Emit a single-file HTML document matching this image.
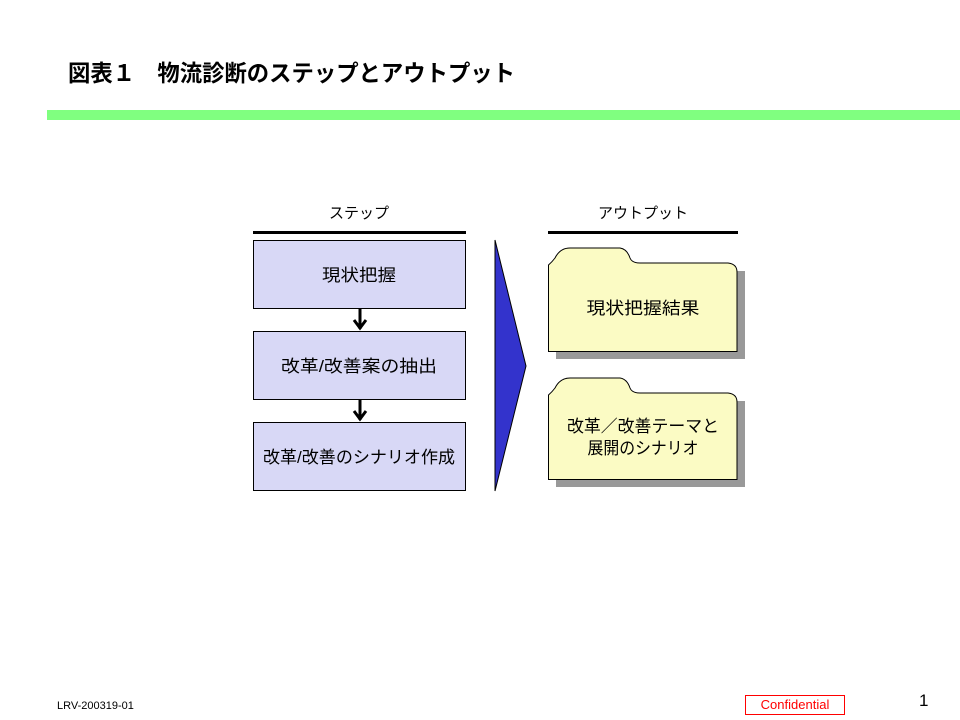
<!DOCTYPE html>
<html><head><meta charset="utf-8"><style>
body{margin:0;width:960px;height:720px;background:#fff;overflow:hidden;position:relative;font-family:"Liberation Sans","Noto Sans CJK JP",sans-serif}
</style></head><body>
<svg width="960" height="720" style="position:absolute;left:0;top:0" font-family="Liberation Sans, Noto Sans CJK JP, sans-serif">
<text x="68" y="81" font-size="23" font-weight="bold" fill="#000" textLength="447" lengthAdjust="spacingAndGlyphs">図表１　物流診断のステップとアウトプット</text>
<rect x="47" y="110" width="913" height="10" fill="#80ff80"/>
<text x="359" y="218" font-size="15" text-anchor="middle">ステップ</text>
<text x="643" y="218" font-size="15" text-anchor="middle">アウトプット</text>
<rect x="253" y="231" width="213" height="3" fill="#000"/>
<rect x="548" y="231" width="190" height="3" fill="#000"/>
<g fill="#d8d8f6" stroke="#000" stroke-width="1">
<rect x="253.5" y="240.5" width="212" height="68"/>
<rect x="253.5" y="331.5" width="212" height="68"/>
<rect x="253.5" y="422.5" width="212" height="68"/>
</g>
<g font-size="17" text-anchor="middle" fill="#000">
<text x="359" y="281" textLength="74" lengthAdjust="spacingAndGlyphs">現状把握</text>
<text x="359" y="372" textLength="156" lengthAdjust="spacingAndGlyphs">改革/改善案の抽出</text>
<text x="359" y="463" textLength="192" lengthAdjust="spacingAndGlyphs">改革/改善のシナリオ作成</text>
</g>
<g stroke="#000" stroke-width="3" fill="none">
<line x1="360" y1="309" x2="360" y2="329"/><polyline points="354,320 360,328 366,320"/>
<line x1="360" y1="400" x2="360" y2="420"/><polyline points="354,411 360,419 366,411"/>
</g>
<polygon points="495,240 526,366 495,491" fill="#3333cc" stroke="#000" stroke-width="1"/>
<g>
<path d="M556,271 L745,271 L745,359 L556,359 Z" fill="#999"/>
<path d="M548.5,351.5 L548.5,265 Q552,262 555,258 Q560,248 570,248 L620,248 Q627,249 630,258 Q632,263 640,263 L728,263 Q737,264 737,272 L737,351.5 Z" fill="#fbfbc4" stroke="#000"/>
<text x="643" y="314" font-size="17" text-anchor="middle" textLength="113" lengthAdjust="spacingAndGlyphs">現状把握結果</text>
<path d="M556,401 L745,401 L745,487 L556,487 Z" fill="#999"/>
<path d="M548.5,479.5 L548.5,395 Q552,392 555,388 Q560,378 570,378 L620,378 Q627,379 630,388 Q632,393 640,393 L728,393 Q737,394 737,402 L737,479.5 Z" fill="#fbfbc4" stroke="#000"/>
<text x="643" y="432" font-size="17" text-anchor="middle" textLength="152" lengthAdjust="spacingAndGlyphs">改革／改善テーマと</text>
<text x="643" y="454" font-size="17" text-anchor="middle" textLength="111" lengthAdjust="spacingAndGlyphs">展開のシナリオ</text>
</g>
<text x="57" y="709" font-size="11">LRV-200319-01</text>
<rect x="745.5" y="695.5" width="99" height="19" fill="#fff" stroke="#f00"/>
<text x="795" y="709" font-size="13" fill="#f00" text-anchor="middle">Confidential</text>
<text x="919" y="706" font-size="17">1</text>
</svg>
</body></html>
